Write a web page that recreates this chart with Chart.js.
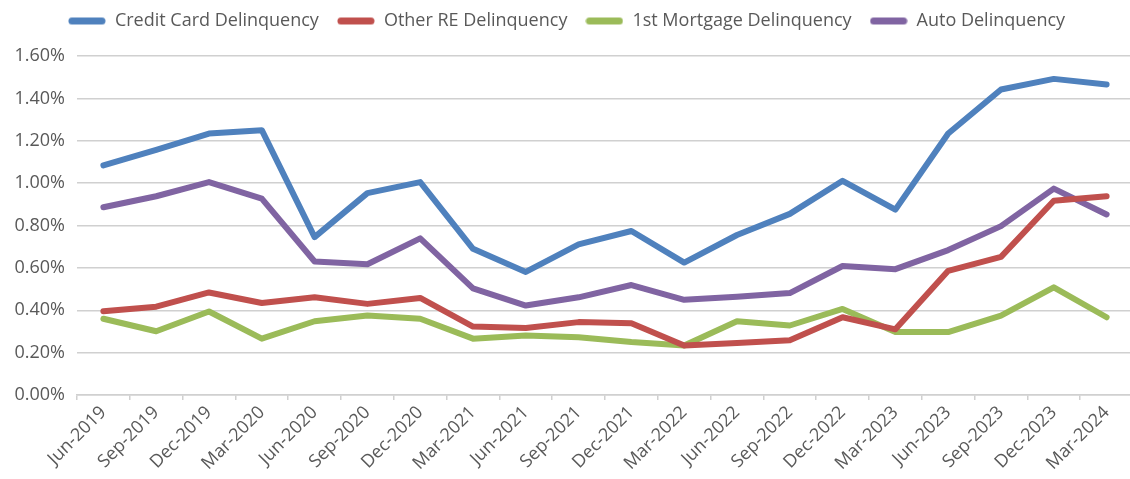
<!DOCTYPE html>
<html>
<head>
<meta charset="utf-8">
<script src="https://cdn.jsdelivr.net/npm/chart.js@4"></script>
<style>
  html, body { margin: 0; padding: 0; background: #fff; overflow: hidden; }
  #wrap { width: 1136px; height: 479px; }
</style>
</head>
<body>
<div id="wrap"><canvas id="delinquencyChart"></canvas></div>
<script>
const quarters = ["Jun-2019","Sep-2019","Dec-2019","Mar-2020","Jun-2020","Sep-2020","Dec-2020","Mar-2021","Jun-2021","Sep-2021",
                  "Dec-2021","Mar-2022","Jun-2022","Sep-2022","Dec-2022","Mar-2023","Jun-2023","Sep-2023","Dec-2023","Mar-2024"];

// percent
const creditCard = [1.084,1.157,1.234,1.250,0.745,0.953,1.005,0.690,0.581,0.711,0.774,0.625,0.755,0.855,1.011,0.875,1.234,1.442,1.492,1.466];
const otherRE    = [0.395,0.417,0.484,0.434,0.461,0.430,0.458,0.323,0.316,0.344,0.339,0.234,0.245,0.258,0.367,0.310,0.586,0.652,0.917,0.938];
const mortgage   = [0.360,0.301,0.394,0.266,0.348,0.375,0.360,0.266,0.281,0.273,0.250,0.234,0.348,0.328,0.406,0.297,0.297,0.375,0.508,0.367];
const auto       = [0.886,0.938,1.005,0.927,0.630,0.617,0.739,0.503,0.422,0.461,0.519,0.449,0.464,0.481,0.609,0.594,0.684,0.797,0.974,0.852];

const textColor = "#595959";
const gridColor = "#d0d0d0";

// rounded bar used as legend marker
function marker(color) {
    const c = document.createElement("canvas");
    c.width = 38; c.height = 9;
    const ctx = c.getContext("2d");
    ctx.strokeStyle = color;
    ctx.lineWidth = 7;
    ctx.lineCap = "round";
    ctx.beginPath();
    ctx.moveTo(4, 4.5);
    ctx.lineTo(34, 4.5);
    ctx.stroke();
    return c;
}

function series(label, data, color) {
    return {
        label: label,
        data: data,
        borderColor: color,
        backgroundColor: color,
        borderWidth: 6,
        borderCapStyle: "round",
        borderJoinStyle: "round",
        pointRadius: 0,
        pointStyle: marker(color),
        tension: 0
    };
}

// extra space under the legend
const legendGap = {
    id: "legendGap",
    beforeLayout(chart) {
        const lg = chart.legend;
        if (lg && !lg._gap) {
            const fit = lg.fit;
            lg.fit = function () { fit.call(this); this.height += 16; };
            lg._gap = true;
        }
    }
};

Chart.defaults.font.family = "'Open Sans', sans-serif";
Chart.defaults.font.size = 18;
Chart.defaults.color = textColor;

new Chart(document.getElementById("delinquencyChart"), {
    type: "line",
    data: {
        labels: quarters,
        datasets: [
            series("Credit Card Delinquency", creditCard, "#4f81bd"),
            series("Other RE Delinquency", otherRE, "#c0504d"),
            series("1st Mortgage Delinquency", mortgage, "#9bbb59"),
            series("Auto Delinquency", auto, "#8064a2")
        ]
    },
    plugins: [legendGap],
    options: {
        responsive: true,
        maintainAspectRatio: false,
        animation: false,
        layout: { padding: { top: -6, right: 3, left: 0, bottom: 0 } },
        plugins: {
            tooltip: { enabled: false },
            legend: {
                position: "top",
                labels: {
                    usePointStyle: true,
                    pointStyleWidth: 38,
                    padding: 18,
                    color: textColor,
                    font: { size: 18 }
                }
            }
        },
        scales: {
            x: {
                offset: true,
                grid: {
                    offset: true,
                    drawOnChartArea: false,
                    drawTicks: true,
                    tickLength: 5,
                    color: gridColor,
                    lineWidth: 1.5
                },
                border: { color: gridColor, width: 1.5 },
                ticks: {
                    autoSkip: false,
                    minRotation: 45,
                    maxRotation: 45,
                    padding: 2,
                    color: textColor,
                    font: { size: 18 }
                },
                afterFit: s => { s.height = 84; }
            },
            y: {
                min: 0,
                max: 1.6,
                grid: {
                    drawTicks: false,
                    color: gridColor,
                    lineWidth: 1.5
                },
                border: { display: false },
                ticks: {
                    stepSize: 0.2,
                    padding: 12,
                    color: textColor,
                    font: { size: 18 },
                    callback: v => v.toFixed(2) + "%"
                },
                afterFit: s => { s.width = 77; }
            }
        }
    }
});
</script>
</body>
</html>
